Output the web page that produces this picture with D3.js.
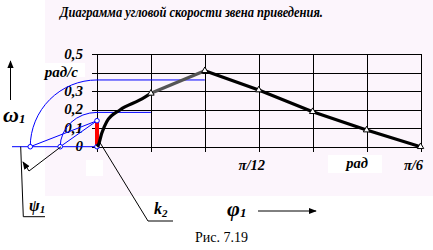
<!DOCTYPE html>
<meta charset="utf-8">
<head>
  <title>Диаграмма угловой скорости</title>
</head>
<style>
body { margin: 0; background: #fff; }
.grid { stroke: #000; stroke-width: 1; shape-rendering: crispEdges; }
.blue { stroke: #0000ff; stroke-width: 1; fill: none; }
.lead { stroke: #000; stroke-width: 1; fill: none; }
</style>
<body>
<svg width="433" height="250"></svg>
<script src="https://cdnjs.cloudflare.com/ajax/libs/d3/7.8.5/d3.min.js"></script>
<script>
// angle of the link, degrees (0 .. pi/6)
var phi = [0, 0.12, 0.44, 0.9, 2.13, 3.98, 5, 10, 15, 20, 25, 30];
// angular velocity, rad/s
var omega = [0, 0.009, 0.072, 0.135, 0.198, 0.252, 0.288, 0.41, 0.306, 0.189, 0.09, 0];
var markerPhi = [5, 10, 15, 20, 25, 30];
var greyPart = [5, 10];

var xGrid = [0, 5, 10, 15, 20, 25, 30];
var yGrid = [0, 0.1, 0.2, 0.3, 0.4, 0.5];
var yTickLabels = ["0", "0,1", "0,2", "0,3", "рад/с", "0,5"];
var xTickLabels = ["", "", "", "π/12", "", "", "π/6"];

var redBar = 0.14;       // k2 segment at phi = 0
var arcValues = [0.36, 0.185];   // values swung onto the axis
var arcEnds = [10, 5];

var serif = "'Liberation Serif', 'Times New Roman', serif";

var svg = d3.select("svg");
svg.append("rect").attr("x", 45).attr("y", 0).attr("width", 388).attr("height", 196)
  .attr("fill", "#fcf5fc");

var x = d3.scaleLinear().domain([0, 30]).range([97, 420.5]);
var y = d3.scaleLinear().domain([0, 0.5]).range([146.7, 54]);
var x0 = x(0), y0 = y(0);

function lbl(sel, size) {
  return sel.style("font-family", serif).style("font-weight", "bold")
    .style("font-style", "italic").style("font-size", size + "px").attr("fill", "#000");
}

// title
lbl(svg.append("text"), 14).attr("x", 60).attr("y", 17)
  .attr("textLength", 263).attr("lengthAdjust", "spacingAndGlyphs")
  .text("Диаграмма угловой скорости звена приведения.");

// white boxes behind unit labels
svg.append("rect").attr("x", 42).attr("y", 63).attr("width", 43).attr("height", 14).attr("fill", "#fff");
svg.append("rect").attr("x", 328).attr("y", 155).attr("width", 54).attr("height", 18).attr("fill", "#fff");
svg.append("rect").attr("x", 86).attr("y", 160).attr("width", 17).attr("height", 16).attr("fill", "#fff");

// grid
var g = svg.append("g");
g.selectAll(".hl").data(yGrid).enter().append("line").attr("class", "grid")
  .attr("x1", x0 - 5).attr("x2", x(30))
  .attr("y1", function(d) { return Math.round(y(d)) + 0.5; })
  .attr("y2", function(d) { return Math.round(y(d)) + 0.5; });
g.selectAll(".vl").data(xGrid).enter().append("line").attr("class", "grid")
  .attr("y1", y(0.5)).attr("y2", y0 + 5)
  .attr("x1", function(d) { return Math.round(x(d)) + 0.5; })
  .attr("x2", function(d) { return Math.round(x(d)) + 0.5; });

// y labels
lbl(svg.selectAll(".yl").data(yGrid).enter().append("text"), 15)
  .attr("text-anchor", "end")
  .attr("x", function(d, i) { return yTickLabels[i] == "рад/с" ? 78 : 83; })
  .attr("y", function(d) { return y(d) + 4.5; })
  .text(function(d, i) { return yTickLabels[i]; });

// x labels
lbl(svg.selectAll(".xl").data(xGrid).enter().append("text"), 14.5)
  .attr("text-anchor", "middle")
  .attr("x", function(d) { return x(d) - 7; })
  .attr("y", 169.5)
  .text(function(d, i) { return xTickLabels[i]; });
lbl(svg.append("text"), 14.5).attr("text-anchor", "middle")
  .attr("x", 357).attr("y", 168).text("рад");

// blue construction
var yRed = y(redBar);
svg.append("line").attr("class", "blue").attr("x1", 12).attr("x2", x0).attr("y1", y0).attr("y2", y0);
var pts = [];
arcValues.forEach(function(v, i) {
  var r = y0 - y(v);
  var sx = x0 - r - (i == 1 ? 2.5 : 0);
  svg.append("path").attr("class", "blue")
    .attr("d", "M" + sx + "," + y0 + " A" + (x0 - sx) + "," + r + " 0 0 1 " + x0 + "," + y(v));
  svg.append("line").attr("class", "blue").attr("x1", x0).attr("x2", x(arcEnds[i]))
    .attr("y1", y(v)).attr("y2", y(v));
  svg.append("line").attr("class", "blue").attr("x1", sx).attr("y1", y0).attr("x2", x0).attr("y2", yRed);
  pts.push([sx, y0]);
});
pts.push([x0, y0], [x0, yRed]);

// red bar k2
svg.append("rect").attr("x", x0 - 2).attr("y", yRed).attr("width", 4).attr("height", y0 - yRed)
  .attr("fill", "#ff0000");

svg.selectAll(".bc").data(pts).enter().append("circle")
  .attr("cx", function(d) { return d[0]; }).attr("cy", function(d) { return d[1]; })
  .attr("r", 2.3).attr("fill", "#fff").attr("stroke", "#0000ff");

// curve
var data = phi.map(function(p, i) { return { p: p, w: omega[i] }; });
var line = d3.line().x(function(d) { return x(d.p); }).y(function(d) { return y(d.w); });
var smooth = d3.line().curve(d3.curveMonotoneX).x(function(d) { return x(d.p); }).y(function(d) { return y(d.w); });
var part1 = data.filter(function(d) { return d.p <= greyPart[0]; });
var part2 = data.filter(function(d) { return d.p >= greyPart[0] && d.p <= greyPart[1]; });
var part3 = data.filter(function(d) { return d.p >= greyPart[1]; });
svg.append("path").attr("d", smooth(part1)).attr("fill", "none").attr("stroke", "#000").attr("stroke-width", 3.2);
svg.append("path").attr("d", line(part2)).attr("fill", "none").attr("stroke", "#555").attr("stroke-width", 3.2);
svg.append("path").attr("d", line(part3)).attr("fill", "none").attr("stroke", "#000").attr("stroke-width", 3.2);

var tri = d3.symbol().type(d3.symbolTriangle).size(18);
svg.selectAll(".mk").data(data.filter(function(d) { return markerPhi.indexOf(d.p) >= 0; }))
  .enter().append("path").attr("d", tri)
  .attr("transform", function(d) { return "translate(" + x(d.p) + "," + y(d.w) + ")"; })
  .attr("fill", "#fff").attr("stroke", "#000").attr("stroke-width", 1);

// arrows
var defs = svg.append("defs");
defs.append("marker").attr("id", "ah").attr("viewBox", "0 0 10 10").attr("refX", 9).attr("refY", 5)
  .attr("markerWidth", 8).attr("markerHeight", 8).attr("markerUnits", "userSpaceOnUse").attr("orient", "auto")
  .append("path").attr("d", "M0,1 L10,5 L0,9 Z").attr("fill", "#000");
svg.append("line").attr("class", "lead").attr("x1", 10.5).attr("y1", 100).attr("x2", 10.5).attr("y2", 61)
  .attr("marker-end", "url(#ah)");
svg.append("line").attr("class", "lead").attr("x1", 258).attr("y1", 211).attr("x2", 316).attr("y2", 211)
  .attr("marker-end", "url(#ah)");

// leader lines
svg.append("path").attr("class", "lead").attr("d", "M20.7," + y0 + " L23.3,216.7 L45,216.7");
svg.append("path").attr("class", "lead").attr("d", "M61," + y0 + " L29,171 L23,162")
  .attr("marker-end", "url(#ah)");
svg.append("path").attr("class", "lead").attr("d", "M99,141 L148,221 L173,221");

// axis symbols
var ws = lbl(svg.append("text"), 22).attr("x", 3).attr("y", 122);
ws.append("tspan").text("ω");
ws.append("tspan").style("font-size", "13px").attr("dy", 1).text("1");
var fs = lbl(svg.append("text"), 22).attr("x", 227).attr("y", 216);
fs.append("tspan").text("φ");
fs.append("tspan").style("font-size", "13px").attr("dy", 1).text("1");
var ps = lbl(svg.append("text"), 16).attr("x", 29).attr("y", 211);
ps.append("tspan").text("ψ");
ps.append("tspan").style("font-size", "11px").attr("dy", 2).text("1");
var ks = lbl(svg.append("text"), 16).attr("x", 154).attr("y", 214);
ks.append("tspan").text("k");
ks.append("tspan").style("font-size", "11px").attr("dy", 3).text("2");

svg.append("text").style("font-family", serif).style("font-size", "14px")
  .attr("x", 195).attr("y", 242).text("Рис. 7.19");
</script>
</body>
</html>
